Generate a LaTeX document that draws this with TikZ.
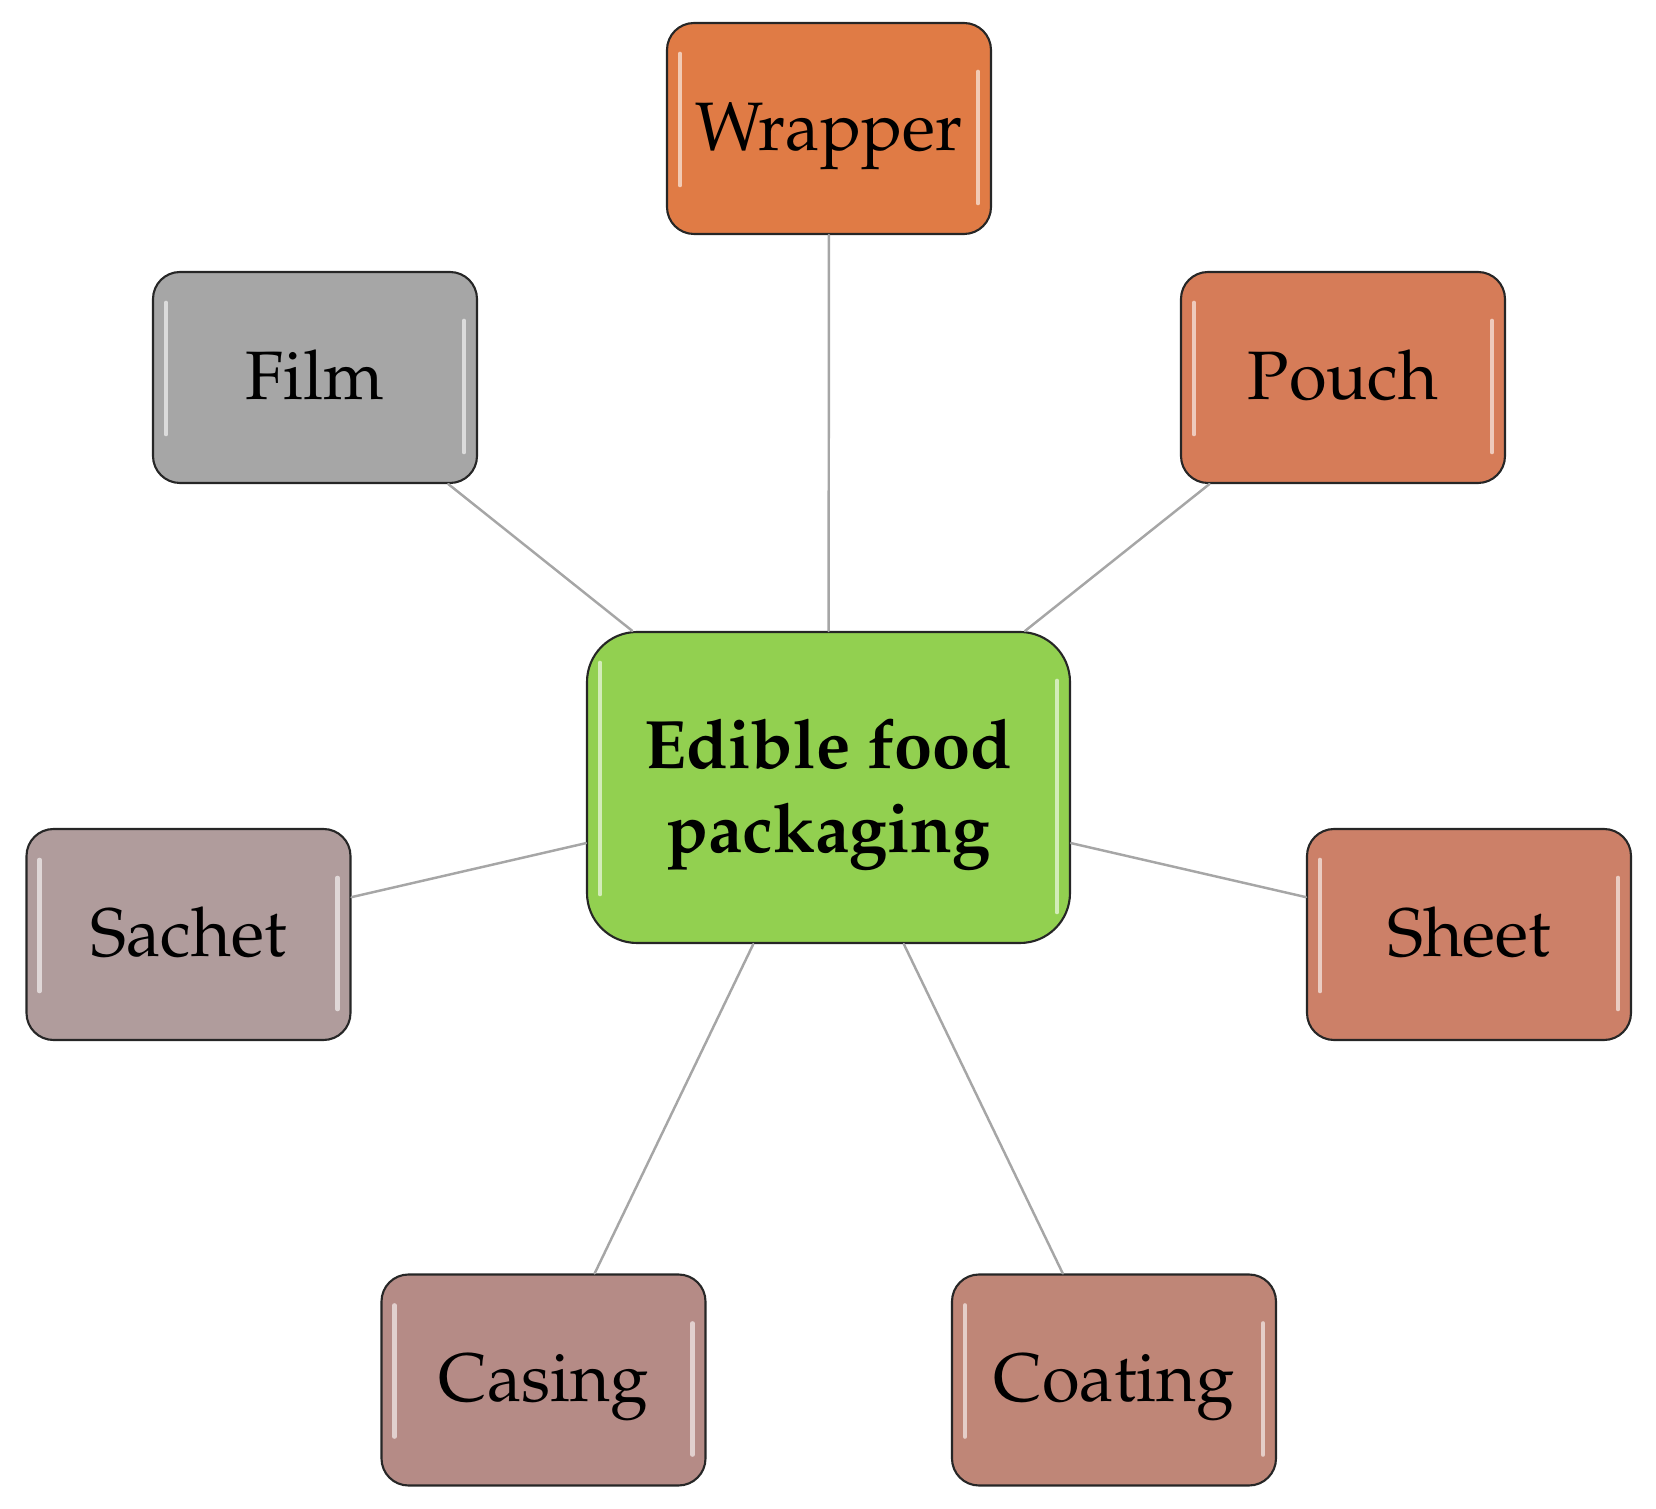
\documentclass[tikz,border=0pt]{standalone}
\usepackage[T1]{fontenc}
\renewcommand{\rmdefault}{ppl}
\definecolor{hubgreen}{HTML}{92D050}
\definecolor{wrapcol}{HTML}{E07B45}
\definecolor{pouchcol}{HTML}{D67C58}
\definecolor{filmcol}{HTML}{A6A6A6}
\definecolor{sachetcol}{HTML}{B09C9C}
\definecolor{sheetcol}{HTML}{CC8068}
\definecolor{casingcol}{HTML}{B58B86}
\definecolor{coatcol}{HTML}{BF8677}

\begin{document}
\begin{tikzpicture}[
  line cap=round,
  line join=round,
  every node/.style={font=\fontsize{19.5}{24}\selectfont},
  item/.style={draw=black!85, line width=0.6pt, rounded corners=0.27cm,
    minimum width=3.24cm, minimum height=2.11cm, align=center,
    text height=0.55cm, text depth=0.11cm},
  hub/.style={item, rounded corners=0.5cm, minimum width=4.83cm,
    minimum height=3.11cm, text height=1.4cm, text depth=0.1cm,
    font=\fontsize{19.5}{24}\selectfont\bfseries},
  link/.style={draw=black!35, line width=0.7pt},
  shine/.style={white, opacity=0.6, line width=1.3pt}
]

% Picture frame: 1656 x 1509 px, 1 px = 0.01 cm
\useasboundingbox (0,0) rectangle (16.56,15.09);

% Centre box
\node[hub, fill=hubgreen] (hub) at (8.285,7.215) {Edible food\\packaging};

% --- the seven forms, symmetric about the centre ---
\node[item, fill=wrapcol]   (wrapper) at (8.29,13.805) {Wrapper};
\node[item, fill=filmcol]   (film)    at (3.15,11.315) {Film};
\node[item, fill=pouchcol]  (pouch)   at (13.43,11.315) {Pouch};
\node[item, fill=sachetcol] (sachet)  at (1.885,5.745) {Sachet};
\node[item, fill=sheetcol]  (sheet)   at (14.69,5.745) {Sheet};
\node[item, fill=casingcol] (casing)  at (5.435,1.29) {Casing};
\node[item, fill=coatcol]   (coating) at (11.14,1.29) {Coating};

% Connectors, centre to centre
\foreach \n in {wrapper,film,pouch,sachet,sheet,casing,coating}
  \draw[link] (hub) -- (\n);

% Glossy highlights along the sides
\foreach \n in {hub,wrapper,film,pouch,sachet,sheet,casing,coating} {
  \draw[shine] ([xshift=0.14cm,yshift=-0.32cm]\n.north west)
    -- ([xshift=0.14cm,yshift=0.5cm]\n.south west);
  \draw[shine] ([xshift=-0.14cm,yshift=-0.5cm]\n.north east)
    -- ([xshift=-0.14cm,yshift=0.32cm]\n.south east);
}

\end{tikzpicture}
\end{document}
